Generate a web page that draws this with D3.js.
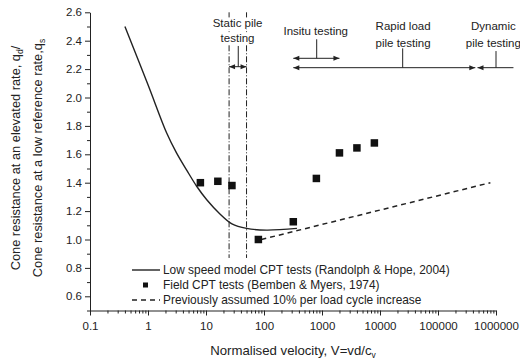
<!DOCTYPE html>
<html>
<head>
<meta charset="utf-8">
<script src="https://cdn.jsdelivr.net/npm/d3@7"></script>
<style>
  body { margin: 0; background: #fff; }
  svg text { font-family: "Liberation Sans", Arial, sans-serif; fill: #222; }
</style>
</head>
<body>
<div id="chart"></div>
<script>
/* DATA */
// low speed model CPT tests (Randolph & Hope, 2004)
const lowX = [0.4, 1, 2.1, 3.1, 4.7, 6.9, 10.3, 17.4, 28, 50, 110, 370];
const lowY = [2.5, 2.09, 1.75, 1.61, 1.485, 1.375, 1.28, 1.18, 1.11, 1.078, 1.066, 1.078];
// field CPT tests (Bemben & Myers, 1974)
const fieldX = [8, 16, 28, 80, 320, 800, 2000, 4000, 8000];
const fieldY = [1.40, 1.41, 1.38, 1.0, 1.125, 1.43, 1.61, 1.645, 1.68];
// previously assumed 10% per log cycle
const assumedX = [90, 800000];
const assumedY = [1.0, 1.40];
// static pile testing bounds
const staticBounds = [25, 50];

const xMajor = [0.1, 1, 10, 100, 1000, 10000, 100000, 1000000];
const yMajor = [0.6, 0.8, 1.0, 1.2, 1.4, 1.6, 1.8, 2.0, 2.2, 2.4, 2.6];

const legendLabels = [
  "Low speed model CPT tests (Randolph & Hope, 2004)",
  "Field CPT tests (Bemben & Myers, 1974)",
  "Previously assumed 10% per load cycle increase"
];

// testing ranges (x in V, y in chart units)
const ranges = [
  { lines: ["Static pile", "testing"], x0: 25, x1: 50, xt: 36, y: 2.217, yt: 2.363, textX: 35, textY: [2.515, 2.41], heads: [true, true] },
  { lines: ["Insitu testing"], x0: 320, x1: 2000, xt: 810, y: 2.276, yt: 2.41, textX: 780, textY: [2.46], heads: [true, true] },
  { lines: ["Rapid load", "pile testing"], x0: 320, x1: 440000, xt: 24600, y: 2.21, yt: 2.346, textX: 25000, textY: [2.5, 2.38], heads: [true, true] },
  { lines: ["Dynamic", "pile testing"], x0: 480000, x1: 2000000, xt: 1000000, y: 2.21, yt: 2.327, textX: 900000, textY: [2.5, 2.38], heads: [true, false] }
];

/* SETUP */
const width = 520, height = 360;
const svg = d3.select("#chart").append("svg")
  .attr("width", width).attr("height", height);

const x = d3.scaleLog().domain([0.1, 1000000]).range([90, 496]);
const y = d3.scaleLinear().domain([0.5, 2.6]).range([310.5, 12.3]);

/* AXES */
const xMinor = [];
xMajor.slice(0, -1).forEach(m => { for (let k = 2; k <= 9; k++) xMinor.push(m * k); });
const yMinor = d3.range(0.5, 2.55, 0.2).map(v => +v.toFixed(1));

const fmtX = d => d < 1 ? "0.1" : String(Math.round(d));

svg.append("g").attr("transform", `translate(0,${y(0.5)})`)
  .call(d3.axisBottom(x).tickValues(xMinor).tickSize(3).tickFormat(""))
  .call(g => g.select(".domain").remove());
const xAxis = svg.append("g").attr("transform", `translate(0,${y(0.5)})`)
  .call(d3.axisBottom(x).tickValues(xMajor).tickSize(5).tickSizeOuter(0).tickFormat(fmtX));
xAxis.selectAll("text").attr("font-size", 11.5).attr("dy", "1.0em");

svg.append("g").attr("transform", `translate(${x(0.1)},0)`)
  .call(d3.axisLeft(y).tickValues(yMinor).tickSize(3).tickFormat(""))
  .call(g => g.select(".domain").remove());
const yAxis = svg.append("g").attr("transform", `translate(${x(0.1)},0)`)
  .call(d3.axisLeft(y).tickValues(yMajor).tickSize(5).tickSizeOuter(0).tickFormat(d3.format(".1f")));
yAxis.selectAll("text").attr("font-size", 11.5);

svg.selectAll(".domain, .tick line").attr("stroke", "#222").attr("stroke-width", 1);

/* AXIS LABELS */
const xl = svg.append("text").attr("x", 293).attr("y", 355)
  .attr("text-anchor", "middle").attr("font-size", 13.2);
xl.append("tspan").text("Normalised velocity, V=vd/c");
xl.append("tspan").attr("font-size", 8.5).attr("dy", 3).text("v");

const yl1 = svg.append("text").attr("transform", "translate(19.5,158) rotate(-90)")
  .attr("text-anchor", "middle").attr("font-size", 12.8);
yl1.append("tspan").text("Cone resistance at an elevated rate, q");
yl1.append("tspan").attr("font-size", 8.5).attr("dy", 3).text("d");
yl1.append("tspan").attr("dy", -3).text("/");

const yl2 = svg.append("text").attr("transform", "translate(41.5,158) rotate(-90)")
  .attr("text-anchor", "middle").attr("font-size", 12.8);
yl2.append("tspan").text("Cone resistance at a low reference rate,q");
yl2.append("tspan").attr("font-size", 8.5).attr("dy", 3).text("s");

/* STATIC PILE BOUNDS */
svg.selectAll("line.bound").data(staticBounds).join("line")
  .attr("class", "bound")
  .attr("x1", d => x(d)).attr("x2", d => x(d))
  .attr("y1", y(2.6)).attr("y2", y(0.87))
  .attr("stroke", "#222").attr("stroke-width", 1)
  .attr("stroke-dasharray", "6,2,1,2");

/* RANGES */
const arrow = (px, py, dir) => {
  const L = 6, H = 2.5;
  return `M${px},${py}L${px - dir * L},${py - H}L${px - dir * L},${py + H}Z`;
};
ranges.forEach(r => {
  const g = svg.append("g");
  r.lines.forEach((t, i) => {
    const tx = x(r.textX), ty = y(r.textY[i]);
    const tt = g.append("text").attr("x", tx).attr("y", ty)
      .attr("text-anchor", "middle").attr("dominant-baseline", "middle")
      .attr("font-size", 11.5).text(t);
    const bb = tt.node().getBBox();
    g.insert("rect", "text").attr("x", bb.x - 1).attr("y", bb.y)
      .attr("width", bb.width + 2).attr("height", bb.height).attr("fill", "#fff");
  });
  g.append("line").attr("x1", x(r.x0)).attr("x2", Math.min(x(r.x1), width))
    .attr("y1", y(r.y)).attr("y2", y(r.y)).attr("stroke", "#222").attr("stroke-width", 1);
  g.append("line").attr("x1", x(r.xt)).attr("x2", x(r.xt))
    .attr("y1", y(r.yt)).attr("y2", y(r.y)).attr("stroke", "#222").attr("stroke-width", 1);
  if (r.heads[0]) g.append("path").attr("d", arrow(x(r.x0), y(r.y), -1)).attr("fill", "#222");
  if (r.heads[1]) g.append("path").attr("d", arrow(x(r.x1), y(r.y), 1)).attr("fill", "#222");
});

/* SERIES */
const lowData = lowX.map((v, i) => [v, lowY[i]]);
const line = d3.line().x(d => x(d[0])).y(d => y(d[1])).curve(d3.curveCatmullRom.alpha(0.5));
svg.append("path").datum(lowData).attr("d", line)
  .attr("fill", "none").attr("stroke", "#222").attr("stroke-width", 1.4);

const assumedData = assumedX.map((v, i) => [v, assumedY[i]]);
svg.append("path").datum(assumedData).attr("d", d3.line().x(d => x(d[0])).y(d => y(d[1])))
  .attr("fill", "none").attr("stroke", "#222").attr("stroke-width", 1.5)
  .attr("stroke-dasharray", "5,4");

const sq = 7.5;
svg.selectAll("rect.field").data(fieldX.map((v, i) => [v, fieldY[i]])).join("rect")
  .attr("class", "field")
  .attr("x", d => x(d[0]) - sq / 2).attr("y", d => y(d[1]) - sq / 2)
  .attr("width", sq).attr("height", sq).attr("fill", "#111");

/* LEGEND */
const lg = svg.append("g");
const rowY = [270, 285, 300];
lg.append("line").attr("x1", 132).attr("x2", 160).attr("y1", rowY[0]).attr("y2", rowY[0])
  .attr("stroke", "#222").attr("stroke-width", 1.4);
lg.append("rect").attr("x", 143).attr("y", rowY[1] - 2.5).attr("width", 5).attr("height", 5).attr("fill", "#111");
lg.append("line").attr("x1", 132).attr("x2", 160).attr("y1", rowY[2]).attr("y2", rowY[2])
  .attr("stroke", "#222").attr("stroke-width", 1.4).attr("stroke-dasharray", "5,4");
lg.selectAll("text").data(legendLabels).join("text")
  .attr("x", 163).attr("y", (d, i) => rowY[i]).attr("dy", "0.35em")
  .attr("font-size", 11.9).text(d => d);
</script>
</body>
</html>
